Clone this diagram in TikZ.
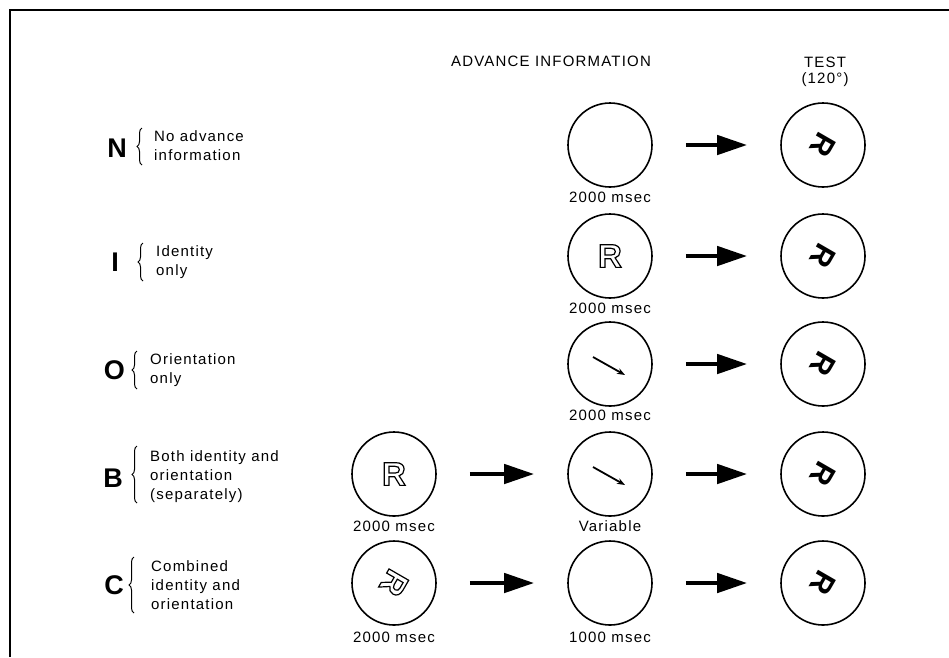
\documentclass[tikz,border=0pt]{standalone}
\usepackage{fontspec}
\setmainfont{Liberation Sans}
\newfontfamily\lblfont[LetterSpace=8]{Liberation Sans}
\usetikzlibrary{arrows.meta,decorations.pathreplacing}
\newcommand\hollowtxt[1]{\special{pdf:literal direct 1 Tr 1.2 w}#1\special{pdf:literal direct 0 Tr}}
\tikzset{
  disc/.style={circle,draw,line width=1.6pt,minimum size=84pt,inner sep=0pt},
  lbl/.style={font=\lblfont\fontsize{15}{19}\selectfont,inner sep=0pt,align=left},
  big/.style={font=\fontsize{27}{30}\selectfont\bfseries,inner sep=0pt,anchor=east},
  flow/.style={line width=4.5pt,-{Triangle[length=30pt,width=19pt]},shorten <=33pt,shorten >=33pt},
  brc/.style={decorate,decoration={brace,amplitude=5pt},line width=1pt},
  cue/.style={line width=1.8pt,-{Stealth[length=8pt,width=6pt]}},
  testR/.style={font=\fontsize{30}{30}\selectfont\bfseries,rotate=-120,inner sep=0pt},
  idR/.style={font=\fontsize{33}{33}\selectfont\bfseries,inner sep=0pt},
}
\begin{document}
\begin{tikzpicture}[x=1pt,y=-1pt]
\useasboundingbox (0,0) rectangle (949,657);
% frame
\coordinate (fb) at (10,657);
\coordinate (fc) at (10,10);
\coordinate (fr) at (949,10);
\draw[line width=1.8pt] (fb) -- (fc) -- (fr);
% headers
\node[lbl] (hadv) at (551,61) {ADVANCE INFORMATION};
\node[lbl] (htest) at (825,62) {TEST};
\node[lbl] (hdeg) at (825,80) {(120°)};
% row labels
\node[big] (ln) at (127,148) {N};
\draw[brc] (142,165) -- (142,128);
\node[lbl,anchor=west] (tn) at (154,146) {No advance\\information};
\node[big] (li) at (119,262) {I};
\draw[brc] (143,281) -- (143,243);
\node[lbl,anchor=west] (ti) at (156,262) {Identity\\only};
\node[big] (lo) at (125,370) {O};
\draw[brc] (137,389) -- (137,351);
\node[lbl,anchor=west] (to) at (150,370) {Orientation\\only};
\node[big] (lb) at (123,478) {B};
\draw[brc] (137,503) -- (137,446);
\node[lbl,anchor=west] (tb) at (150,477) {Both identity and\\orientation\\(separately)};
\node[big] (lc) at (124,585) {C};
\draw[brc] (134,613) -- (134,557);
\node[lbl,anchor=west] (tc) at (151,585) {Combined\\identity and\\orientation};
% row N
\node[disc] (n2) at (610,145) {};
\node[disc] (n3) at (823,145) {};
\node[testR] (n3r) at (n3) {R};
\node[lbl] (n2t) at (610,197) {2000 msec};
\draw[flow] (n2) -- (n3);
% row I
\node[disc] (i2) at (610,256) {};
\node[idR] (i2r) at (i2) {\hollowtxt{R}};
\node[disc] (i3) at (823,256) {};
\node[testR] (i3r) at (i3) {R};
\node[lbl] (i2t) at (610,308) {2000 msec};
\draw[flow] (i2) -- (i3);
% row O
\node[disc] (o2) at (610,364) {};
\draw[cue] ([shift={(-17,-7)}]o2.center) -- ([shift={(15,11)}]o2.center);
\node[disc] (o3) at (823,364) {};
\node[testR] (o3r) at (o3) {R};
\node[lbl] (o2t) at (610,415) {2000 msec};
\draw[flow] (o2) -- (o3);
% row B
\node[disc] (b1) at (394,474) {};
\node[idR] (b1r) at (b1) {\hollowtxt{R}};
\node[disc] (b2) at (610,474) {};
\draw[cue] ([shift={(-17,-7)}]b2.center) -- ([shift={(15,11)}]b2.center);
\node[disc] (b3) at (823,474) {};
\node[testR] (b3r) at (b3) {R};
\node[lbl] (b1t) at (394,526) {2000 msec};
\node[lbl] (b2t) at (610,526) {Variable};
\draw[flow] (b1) -- (b2);
\draw[flow] (b2) -- (b3);
% row C
\node[disc] (c1) at (394,583) {};
\node[idR,rotate=-120] (c1r) at (c1) {\hollowtxt{R}};
\node[disc] (c2) at (610,583) {};
\node[disc] (c3) at (823,583) {};
\node[testR] (c3r) at (c3) {R};
\node[lbl] (c1t) at (394,637) {2000 msec};
\node[lbl] (c2t) at (610,637) {1000 msec};
\draw[flow] (c1) -- (c2);
\draw[flow] (c2) -- (c3);
\end{tikzpicture}
\end{document}
